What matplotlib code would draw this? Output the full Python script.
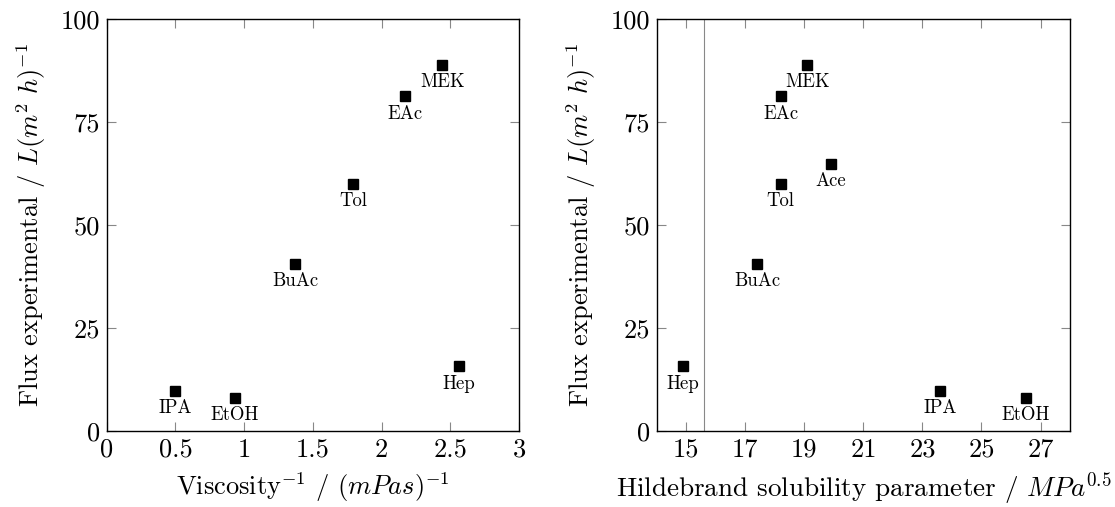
import matplotlib
matplotlib.use("Agg")
import matplotlib.pyplot as plt

plt.rcParams['font.family'] = 'cmr10'
plt.rcParams['mathtext.fontset'] = 'cm'
plt.rcParams['axes.formatter.use_mathtext'] = True

# data
solvents_visc = ['IPA', 'EtOH', 'BuAc', 'Tol', 'EAc', 'MEK', 'Hep']
visc_inv = [0.50, 0.93, 1.37, 1.79, 2.17, 2.44, 2.56]
flux_visc = [9.7, 8.1, 40.6, 60.0, 81.2, 88.8, 15.7]

solvents_hild = ['Hep', 'BuAc', 'Tol', 'EAc', 'MEK', 'Ace', 'IPA', 'EtOH']
hildebrand = [14.9, 17.4, 18.2, 18.2, 19.1, 19.9, 23.6, 26.5]
flux_hild = [15.7, 40.6, 60.0, 81.2, 88.8, 64.8, 9.7, 8.1]

x1_ticks = [0, 0.5, 1, 1.5, 2, 2.5, 3]
x1_labels = ['0', '0.5', '1', '1.5', '2', '2.5', '3']
x2_ticks = [15, 17, 19, 21, 23, 25, 27]
y_ticks = [0, 25, 50, 75, 100]
vline_x = 15.6

fig = plt.figure(figsize=(11.15, 5.07), dpi=100)
ax1 = fig.add_axes([0.0957, 0.1499, 0.3700, 0.8126])
ax2 = fig.add_axes([0.5890, 0.1499, 0.3707, 0.8126])

ylabel = r'Flux experimental / $L(m^2\ h)^{-1}$'


def style(ax):
    ax.set_ylim(0, 100)
    ax.set_yticks(y_ticks)
    ax.set_yticklabels([str(v) for v in y_ticks])
    ax.tick_params(direction='in', length=6.5, width=0.8, color='#888888',
                   top=True, right=True, labelsize=19, pad=5)
    for s in ax.spines.values():
        s.set_linewidth(1.0)
    ax.set_ylabel(ylabel, fontsize=19, labelpad=9)


def put_points(ax, xs, ys, names):
    ax.plot(xs, ys, 's', color='black', markersize=6.5, linestyle='none')
    for x, y, n in zip(xs, ys, names):
        ax.annotate(n, (x, y), xytext=(0, -6), textcoords='offset points',
                    ha='center', va='top', fontsize=13.5)


put_points(ax1, visc_inv, flux_visc, solvents_visc)
ax1.set_xlim(0, 3)
ax1.set_xticks(x1_ticks)
ax1.set_xticklabels(x1_labels)
style(ax1)
ax1.set_xlabel(r'Viscosity$^{-1}$ / $(mPas)^{-1}$', fontsize=19, labelpad=6)

ax2.axvline(vline_x, color='#888888', linewidth=0.8)
put_points(ax2, hildebrand, flux_hild, solvents_hild)
ax2.set_xlim(14, 28)
ax2.set_xticks(x2_ticks)
ax2.set_xticklabels([str(v) for v in x2_ticks])
style(ax2)
ax2.set_xlabel(r'Hildebrand solubility parameter / $MPa^{0.5}$', fontsize=19.5, labelpad=6)

fig.savefig('out.png', dpi=100)
